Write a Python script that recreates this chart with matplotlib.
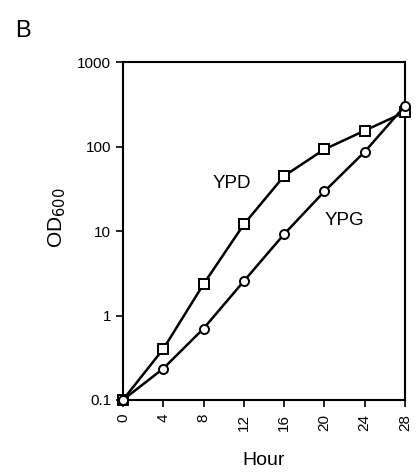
import matplotlib
matplotlib.use("Agg")
import matplotlib.pyplot as plt

plt.rcParams['font.family'] = ['Liberation Sans', 'DejaVu Sans']

# hours sampled
hours = [0, 4, 8, 12, 16, 20, 24, 28]
# OD600 readings
ypd = [0.1, 0.40, 2.35, 12.0, 45.0, 93.0, 155.0, 257.0]
ypg = [0.1, 0.235, 0.70, 2.55, 9.2, 29.5, 87.0, 305.0]

y_ticks = [0.1, 1, 10, 100, 1000]
y_tick_labels = ["0.1", "1", "10", "100", "1000"]

fig = plt.figure(figsize=(4.18, 4.75), dpi=100)
ax = fig.add_axes([0.294, 0.158, 0.675, 0.711])

ax.plot(hours, ypd, '-s', color='black', lw=1.8, ms=7, mfc='white', mec='black', mew=1.4, clip_on=False, zorder=3)
ax.plot(hours, ypg, '-o', color='black', lw=1.8, ms=6.5, mfc='white', mec='black', mew=1.4, clip_on=False, zorder=3)

ax.set_yscale('log')
ax.set_ylim(0.1, 1000)
ax.set_xlim(0, 28)
ax.set_yticks(y_ticks)
ax.set_yticklabels(y_tick_labels)
ax.yaxis.set_minor_locator(matplotlib.ticker.NullLocator())
ax.set_xticks(hours)
ax.set_xticklabels([str(h) for h in hours], rotation=90)

ax.tick_params(direction='out', length=5, width=1.2, labelsize=11, colors='black')
ax.tick_params(axis='x', pad=5)
for s in ax.spines.values():
    s.set_linewidth(1.5)

ax.text(10.8, 37, "YPD", fontsize=13.5, ha='center', va='center')
ax.text(22.0, 13.5, "YPG", fontsize=13.5, ha='center', va='center')

ax.set_xlabel("Hour", fontsize=14)
ax.xaxis.set_label_coords(0.5, -0.155)
ax.set_ylabel("OD$_{600}$", fontsize=15)
ax.yaxis.set_label_coords(-0.195, 0.54)

fig.text(0.035, 0.935, "B", fontsize=17, ha='left', va='center')

fig.savefig("out.png", dpi=100)
